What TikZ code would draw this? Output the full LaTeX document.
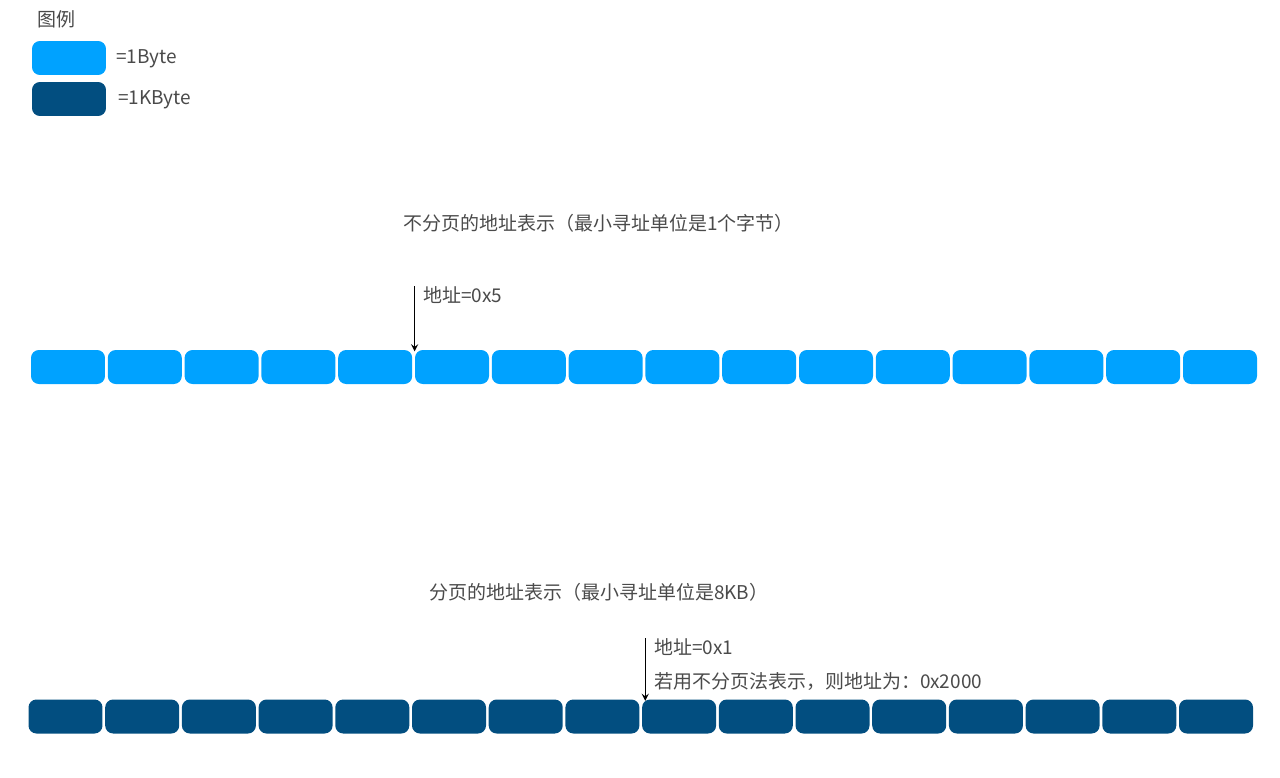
\documentclass[tikz,border=0pt]{standalone}
\usepackage{fontspec}
\setmainfont{Noto Sans CJK SC}
\usetikzlibrary{arrows, positioning}
\definecolor{byteblue}{HTML}{00A2FF}
\definecolor{kbblue}{HTML}{024E80}
\definecolor{labelgray}{HTML}{4A4A4A}

\begin{document}
\begin{tikzpicture}[x=0.02cm, y=-0.02cm, >=stealth,
  cell/.style={rectangle, rounded corners=4.5pt,
               minimum width=1.48cm, minimum height=0.68cm, inner sep=0pt},
  bytecell/.style={cell, fill=byteblue},
  kbcell/.style={cell, fill=kbblue},
  txt/.style={text=labelgray, inner sep=0pt,
              font=\fontsize{10.8pt}{13pt}\selectfont},
  arr/.style={->, line width=0.8pt, draw=black},
]
\useasboundingbox (0,0) rectangle (1280,777);

%% ── Legend ──────────────────────────────────────────────────────────
\node[txt] (legend) at (56,19) {图例};
\node[bytecell] (keybyte) at (69,58)  {};
\node[kbcell]   (keykb)   at (69,99)  {};
\node[txt, anchor=west] (keybytetxt) at (116,59)  {=1Byte};
\node[txt, anchor=west] (keykbtxt)   at (118,100) {=1KByte};

%% ── Row 1: byte addressing ──────────────────────────────────────────
\node[txt] (title1) at (598.5,223) {不分页的地址表示（最小寻址单位是1个字节）};
\foreach \i in {1,...,16}
  \node[bytecell] (b\i) at ({68+76.8*(\i-1)},367) {};
\node[txt, anchor=west] (addr1) at (423,295) {地址=0x5};
\draw[arr] (b6.north west |- addr1.north) -- ([yshift=-1pt]b6.north west);

%% ── Row 2: page addressing ──────────────────────────────────────────
\node[txt] (title2) at (599,592) {分页的地址表示（最小寻址单位是8KB）};
\foreach \i in {1,...,16}
  \node[kbcell] (p\i) at ({65.5+76.7*(\i-1)},716.5) {};
\node[txt, anchor=west] (addr2) at (654,647) {地址=0x1};
\node[txt, anchor=west] (addr2full) at (654,682) {若用不分页法表示，则地址为：0x2000};
\draw[arr] ([xshift=2pt]p9.north west |- addr2.north)
  -- ([xshift=2pt, yshift=-1pt]p9.north west);

\end{tikzpicture}
\end{document}
